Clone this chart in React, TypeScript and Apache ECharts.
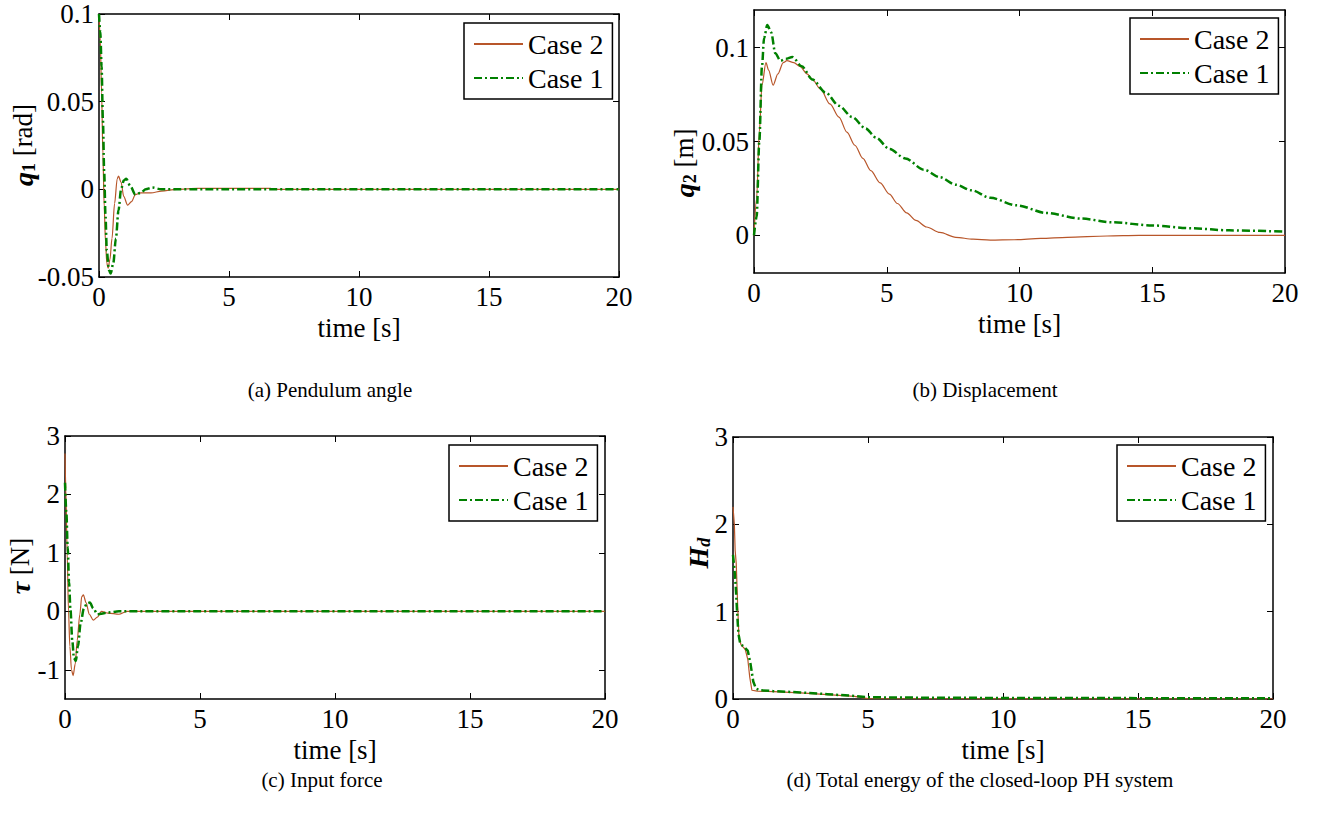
import React, { useEffect, useRef } from "react";
import * as echarts from "echarts";

// ---------- data ----------
// (a) pendulum angle q1 [rad]
const qaT2 = [0, 0.05, 0.1, 0.15, 0.2, 0.25, 0.3, 0.35, 0.42, 0.5, 0.6, 0.7, 0.75, 0.85, 0.95, 1.1, 1.25, 1.4, 1.6, 2.0, 2.4, 3.0, 3.8, 6.6, 6.7, 20];
const qaV2 = [0.1, 0.085, 0.055, 0.02, -0.01, -0.03, -0.042, -0.045, -0.04, -0.028, -0.008, 0.006, 0.0075, 0.004, -0.004, -0.009, -0.007, -0.003, -0.002, -0.002, -0.001, 0, 0.0005, 0.0005, 0, 0];
const qaT1 = [0, 0.05, 0.1, 0.15, 0.2, 0.25, 0.3, 0.38, 0.45, 0.55, 0.65, 0.75, 0.85, 0.95, 1.05, 1.2, 1.4, 1.6, 1.8, 2.05, 2.4, 20];
const qaV1 = [0.1, 0.09, 0.07, 0.04, 0.01, -0.015, -0.035, -0.046, -0.048, -0.042, -0.028, -0.012, 0.0, 0.005, 0.006, 0.002, -0.003, -0.002, 0.0, 0.001, 0, 0];

// (b) displacement q2 [m]
const qbT2 = [0, 0.1, 0.2, 0.3, 0.45, 0.55, 0.72, 0.9, 1.1, 1.24, 1.5, 1.73, 2.0, 2.2, 2.5, 2.86, 3.2, 3.5, 3.8, 4.1, 4.4, 4.75, 5.1, 5.4, 5.75, 6.1, 6.5, 7.0, 7.6, 8.25, 8.9, 9.8, 10.8, 11.8, 13.3, 14.5, 20];
const qbV2 = [0, 0.02, 0.055, 0.08, 0.092, 0.088, 0.08, 0.086, 0.092, 0.093, 0.092, 0.09, 0.086, 0.083, 0.078, 0.07, 0.063, 0.055, 0.048, 0.041, 0.0345, 0.028, 0.022, 0.017, 0.012, 0.008, 0.0045, 0.0016, -0.001, -0.002, -0.0025, -0.0023, -0.0016, -0.001, -0.0003, 0, 0];
const qbT1 = [0, 0.1, 0.2, 0.3, 0.38, 0.5, 0.65, 0.8, 1.0, 1.2, 1.45, 1.8, 2.2, 2.7, 3.2, 3.7, 4.2, 4.6, 5.1, 5.7, 6.4, 7.0, 7.6, 8.2, 8.9, 9.9, 11, 12.3, 13.5, 15, 16.5, 17.9, 20];
const qbV1 = [0, 0.01, 0.05, 0.09, 0.105, 0.112, 0.108, 0.097, 0.093, 0.094, 0.095, 0.09, 0.083, 0.076, 0.069, 0.063, 0.057, 0.052, 0.046, 0.041, 0.035, 0.031, 0.027, 0.024, 0.02, 0.016, 0.012, 0.009, 0.007, 0.0053, 0.0038, 0.0027, 0.002];

// (c) input force tau [N]
const tcT2 = [0, 0.03, 0.08, 0.13, 0.18, 0.24, 0.3, 0.38, 0.45, 0.55, 0.62, 0.68, 0.78, 0.9, 1.05, 1.2, 1.35, 1.6, 2.0, 2.3, 20];
const tcV2 = [2.7, 2.1, 1.0, 0, -0.6, -1.0, -1.1, -0.9, -0.5, -0.05, 0.25, 0.28, 0.15, -0.05, -0.15, -0.1, 0, -0.03, -0.05, 0, 0];
const tcT1 = [0, 0.05, 0.1, 0.15, 0.2, 0.27, 0.33, 0.4, 0.48, 0.58, 0.7, 0.82, 0.92, 1.05, 1.2, 1.35, 1.6, 2.0, 20];
const tcV1 = [2.2, 1.7, 1.1, 0.5, 0.05, -0.5, -0.8, -0.85, -0.6, -0.2, 0.05, 0.14, 0.15, 0.05, -0.05, -0.04, -0.02, 0, 0];

// (d) total energy Hd
const hdT2 = [0, 0.05, 0.08, 0.12, 0.17, 0.22, 0.3, 0.45, 0.55, 0.62, 0.7, 0.9, 1.5, 2.5, 3.5, 4.5, 5.0, 7.0, 20];
const hdV2 = [2.2, 2.0, 1.7, 1.55, 1.1, 0.7, 0.62, 0.57, 0.45, 0.25, 0.1, 0.09, 0.085, 0.07, 0.05, 0.03, 0.005, 0.003, 0];
const hdT1 = [0, 0.05, 0.1, 0.15, 0.2, 0.27, 0.4, 0.55, 0.65, 0.75, 0.85, 1.0, 1.5, 2.5, 3.5, 4.5, 5.0, 7.0, 10, 15, 20];
const hdV1 = [1.65, 1.5, 1.3, 1.0, 0.75, 0.63, 0.6, 0.55, 0.4, 0.2, 0.12, 0.1, 0.09, 0.075, 0.055, 0.035, 0.02, 0.015, 0.012, 0.01, 0.01];

const legendNames = ["Case 2", "Case 1"];
const captions = [
  "(a) Pendulum angle",
  "(b) Displacement",
  "(c) Input force",
  "(d) Total energy of the closed-loop PH system",
];

// ---------- styles ----------
const FONT = "Liberation Serif";
const BROWN = "#b8562a";
const GREEN = "#008000";
const DASHDOT = [8, 3, 2, 3];

const zip = (t: number[], v: number[]) => t.map((x, i) => [x, v[i]]);

export default function App() {
  const ref = useRef<HTMLDivElement>(null);
  useEffect(() => {
    document.body.style.margin = "0";
    if (!ref.current) return;
    const chart = echarts.init(ref.current, undefined, { renderer: "svg" });

    const grids = [
      { left: 99, top: 14, width: 520, height: 263 },
      { left: 754, top: 10, width: 531, height: 263 },
      { left: 65, top: 436, width: 540, height: 263 },
      { left: 733, top: 437, width: 540, height: 262 },
    ];
    const yCfg: any[] = [
      { min: -0.05, max: 0.1, interval: 0.05 },
      { min: -0.02, max: 0.12, custom: [0, 0.05, 0.1] },
      { min: -1.5, max: 3, custom: [-1, 0, 1, 2, 3] },
      { min: 0, max: 3, interval: 1 },
    ];
    const smoothFlags = [0.3, 0.3, 0.3, 0];
    const seriesData = [
      [zip(qaT2, qaV2), zip(qaT1, qaV1)],
      [zip(qbT2, qbV2), zip(qbT1, qbV1)],
      [zip(tcT2, tcV2), zip(tcT1, tcV1)],
      [zip(hdT2, hdV2), zip(hdT1, hdV1)],
    ];
    const axisLine = { show: true, onZero: false, lineStyle: { color: "#000", width: 1.5 } };
    const tick = { show: true, inside: true, length: 6, lineStyle: { color: "#000", width: 1 } };
    const labelStyle = { fontFamily: FONT, fontSize: 27, color: "#000" };

    const xAxis: any[] = [];
    const yAxis: any[] = [];
    const series: any[] = [];
    const legend: any[] = [];

    grids.forEach((g, i) => {
      ["bottom", "top"].forEach((pos) => {
        xAxis.push({
          type: "value",
          gridIndex: i,
          position: pos,
          min: 0,
          max: 20,
          interval: 5,
          axisLine,
          axisTick: tick,
          splitLine: { show: false },
          axisLabel: { show: pos === "bottom", margin: 6, ...labelStyle },
          name: pos === "bottom" ? "time [s]" : "",
          nameLocation: "middle",
          nameGap: 37,
          nameTextStyle: { fontFamily: FONT, fontSize: 27, color: "#000" },
        });
      });
      const yc = yCfg[i];
      ["left", "right"].forEach((pos) => {
        const a: any = {
          type: "value",
          gridIndex: i,
          position: pos,
          min: yc.min,
          max: yc.max,
          axisLine,
          axisTick: { ...tick },
          splitLine: { show: false },
          axisLabel: { show: pos === "left", margin: 5, ...labelStyle },
        };
        if (yc.interval) a.interval = yc.interval;
        if (yc.custom) {
          a.axisTick.customValues = yc.custom;
          a.axisLabel.customValues = yc.custom;
        }
        yAxis.push(a);
      });
      series.push({
        type: "line",
        name: legendNames[0],
        xAxisIndex: 2 * i,
        yAxisIndex: 2 * i,
        data: seriesData[i][0],
        symbol: "none",
        smooth: smoothFlags[i],
        smoothMonotone: "x",
        lineStyle: { color: BROWN, width: 1.2 },
        itemStyle: { color: BROWN },
        z: 3,
      });
      series.push({
        type: "line",
        name: legendNames[1],
        xAxisIndex: 2 * i,
        yAxisIndex: 2 * i,
        data: seriesData[i][1],
        symbol: "none",
        smooth: smoothFlags[i],
        smoothMonotone: "x",
        lineStyle: { color: GREEN, width: 2.5, type: DASHDOT },
        itemStyle: { color: GREEN },
        z: 4,
      });
    });

    const legendPos = [
      { left: 464, top: 23 },
      { left: 1130, top: 18 },
      { left: 449, top: 445 },
      { left: 1117, top: 445 },
    ];
    legendPos.forEach((p) => {
      legend.push({
        data: legendNames,
        orient: "vertical",
        left: p.left,
        top: p.top,
        itemWidth: 49,
        itemHeight: 14,
        itemGap: 6,
        padding: [7, 9, 7, 9],
        borderColor: "#000",
        borderWidth: 1.5,
        borderRadius: 0,
        backgroundColor: "#fff",
        selectedMode: false,
        itemStyle: { opacity: 0 },
        textStyle: { fontFamily: FONT, fontSize: 28, color: "#000" },
      });
    });

    const richBase = { fontFamily: FONT, color: "#000" };
    const yNames = [
      { x: 23, y: 145, text: "{v|q}{s|1}{n| [rad]}", it: false },
      { x: 684, y: 163, text: "{v|q}{s|2}{n| [m]}", it: false },
      { x: 20, y: 566, text: "{v|τ}{n| [N]}", it: false },
      { x: 698, y: 553, text: "{v|H}{s|d}", it: true },
    ];
    const graphic: any[] = yNames.map((n) => ({
      type: "text",
      x: n.x,
      y: n.y,
      rotation: Math.PI / 2,
      style: {
        text: n.text,
        align: "center",
        verticalAlign: "middle",
        rich: {
          v: { ...richBase, fontSize: 28, fontWeight: "bold", fontStyle: "italic" },
          s: { ...richBase, fontSize: 18, fontWeight: "bold", fontStyle: n.it ? "italic" : "normal", padding: [12, 0, 0, 0] },
          n: { ...richBase, fontSize: 27 },
        },
      },
    }));
    const capPos = [
      { x: 330, y: 390 },
      { x: 985, y: 390 },
      { x: 322, y: 780 },
      { x: 980, y: 780 },
    ];
    capPos.forEach((c, i) => {
      graphic.push({
        type: "text",
        x: c.x,
        y: c.y,
        style: {
          text: captions[i],
          fontFamily: FONT,
          fontSize: 21,
          fill: "#000",
          align: "center",
          verticalAlign: "middle",
        },
      });
    });

    chart.setOption({
      animation: false,
      backgroundColor: "#fff",
      textStyle: { fontFamily: FONT },
      grid: grids.map((g) => ({ ...g, containLabel: false })),
      xAxis,
      yAxis,
      series,
      legend,
      graphic,
    });
    return () => chart.dispose();
  }, []);
  return <div ref={ref} style={{ width: 1320, height: 834 }} />;
}
